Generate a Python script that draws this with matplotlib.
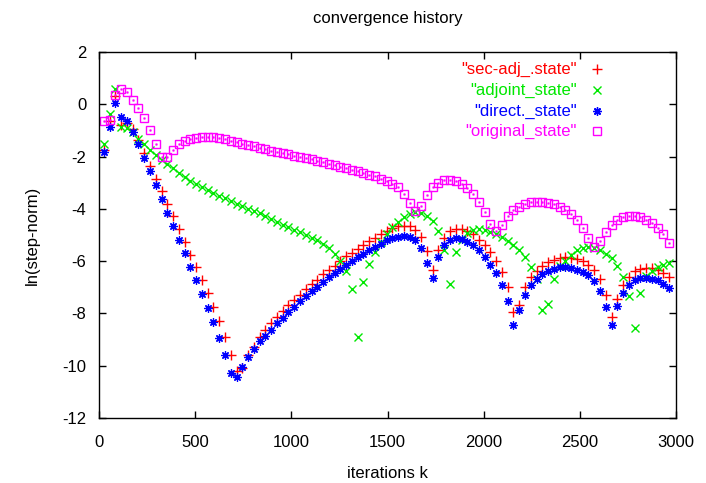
import numpy as np
import matplotlib
matplotlib.use("Agg")
import matplotlib.pyplot as plt

plt.rcParams['font.family'] = ['Liberation Sans', 'DejaVu Sans']
plt.rcParams['axes.unicode_minus'] = False

# iteration numbers (one sample every 30 iterations)
iters = np.arange(25, 2966, 30)

sec_adj = [-1.75, -0.64, 0.30, -0.80, -0.72, -0.95, -1.38, -1.87, -2.36, -2.85,
           -3.32, -3.81, -4.28, -4.76, -5.25, -5.75, -6.23, -6.72, -7.23, -7.74,
           -8.28, -8.89, -9.59, -10.20, -10.10, -9.60, -9.27, -8.89, -8.62, -8.38,
           -8.15, -7.92, -7.68, -7.47, -7.28, -7.06, -6.87, -6.72, -6.51, -6.33,
           -6.17, -5.98, -5.82, -5.68, -5.54, -5.40, -5.24, -5.10, -4.95, -4.83,
           -4.72, -4.67, -4.64, -4.67, -4.80, -5.06, -5.62, -6.33, -5.57, -5.11,
           -4.84, -4.76, -4.78, -4.85, -4.98, -5.18, -5.40, -5.66, -5.98, -6.40,
           -7.00, -7.96, -7.66, -7.00, -6.62, -6.36, -6.17, -6.04, -5.95, -5.88,
           -5.86, -5.87, -5.91, -5.98, -6.13, -6.33, -6.68, -7.28, -8.12, -7.46,
           -6.90, -6.59, -6.39, -6.30, -6.27, -6.27, -6.33, -6.46, -6.62]

adjoint = [-1.53, -0.36, 0.60, -0.85, -0.90, -1.06, -1.31, -1.53, -1.76, -1.95,
           -2.12, -2.30, -2.45, -2.62, -2.78, -2.92, -3.05, -3.17, -3.28, -3.39,
           -3.50, -3.60, -3.70, -3.80, -3.90, -3.99, -4.08, -4.17, -4.27, -4.40,
           -4.50, -4.60, -4.71, -4.81, -4.90, -5.00, -5.11, -5.21, -5.33, -5.51,
           -5.72, -6.00, -6.36, -7.06, -8.90, -6.81, -6.11, -5.64, -5.27, -4.95,
           -4.70, -4.49, -4.33, -4.18, -4.12, -4.17, -4.29, -4.47, -4.84, -5.59,
           -6.88, -5.66, -5.21, -4.92, -4.80, -4.76, -4.80, -4.87, -4.98, -5.09,
           -5.22, -5.40, -5.59, -5.86, -6.21, -6.70, -7.87, -7.64, -6.68, -6.20,
           -5.98, -5.75, -5.59, -5.50, -5.47, -5.48, -5.57, -5.71, -5.88, -6.17,
           -6.59, -7.33, -8.54, -7.23, -6.55, -6.36, -6.23, -6.13, -6.08]

direct = [-1.83, -0.87, 0.05, -0.49, -0.64, -1.06, -1.53, -2.06, -2.57, -3.10,
          -3.61, -4.15, -4.66, -5.18, -5.70, -6.21, -6.74, -7.25, -7.79, -8.32,
          -8.93, -9.58, -10.28, -10.45, -10.04, -9.66, -9.36, -9.07, -8.85, -8.62,
          -8.38, -8.17, -7.96, -7.74, -7.54, -7.34, -7.15, -6.97, -6.79, -6.62,
          -6.45, -6.30, -6.15, -6.00, -5.86, -5.72, -5.57, -5.45, -5.33, -5.20,
          -5.11, -5.06, -5.03, -5.07, -5.20, -5.49, -6.08, -6.64, -5.85, -5.40,
          -5.18, -5.11, -5.15, -5.27, -5.40, -5.59, -5.85, -6.13, -6.46, -6.90,
          -7.54, -8.43, -7.87, -7.28, -6.93, -6.68, -6.51, -6.39, -6.30, -6.24,
          -6.23, -6.26, -6.32, -6.40, -6.53, -6.77, -7.13, -7.74, -8.46, -7.73,
          -7.22, -6.91, -6.74, -6.64, -6.64, -6.68, -6.74, -6.87, -7.02]

original = [-0.64, -0.60, 0.35, 0.60, 0.46, 0.18, -0.13, -0.51, -0.97, -1.51,
            -2.02, -2.02, -1.76, -1.53, -1.40, -1.32, -1.28, -1.26, -1.26, -1.27,
            -1.30, -1.34, -1.40, -1.45, -1.50, -1.55, -1.61, -1.66, -1.71, -1.77,
            -1.81, -1.86, -1.92, -1.97, -2.00, -2.05, -2.11, -2.16, -2.22, -2.27,
            -2.33, -2.39, -2.45, -2.51, -2.56, -2.62, -2.69, -2.76, -2.85, -2.93,
            -3.04, -3.18, -3.42, -3.77, -4.10, -3.88, -3.48, -3.18, -3.00, -2.90,
            -2.88, -2.94, -3.05, -3.20, -3.45, -3.74, -4.13, -4.58, -4.85, -4.60,
            -4.29, -4.06, -3.91, -3.80, -3.74, -3.72, -3.72, -3.76, -3.82, -3.91,
            -4.04, -4.19, -4.42, -4.72, -5.12, -5.47, -5.24, -4.87, -4.60, -4.42,
            -4.32, -4.26, -4.26, -4.31, -4.42, -4.55, -4.72, -4.98, -5.31]

labels = ['"sec-adj_.state"', '"adjoint_state"', '"direct._state"', '"original_state"']
colors = ['#ff0000', '#00e800', '#0000ff', '#ff00ff']
asterisk = (8, 2, 0)

fig = plt.figure(figsize=(7.06, 4.83), dpi=100)
ax = fig.add_axes([99/706, 65/483, 577/706, 366/483])

ax.plot(iters, sec_adj, ls='none', marker='+', ms=6.5, mew=1.0, color=colors[0])
ax.plot(iters, adjoint, ls='none', marker='x', ms=5.5, mew=1.0, color=colors[1])
ax.plot(iters, direct, ls='none', marker=asterisk, ms=6, mew=0.9, color=colors[2])
ax.plot(iters, original, ls='none', marker='s', ms=5.5, mew=1.0, mfc='none', color=colors[3])
ax.plot(iters, original, ls='none', marker='s', ms=1, mew=0.5, color=colors[3])

ax.set_xlim(0, 3000)
ax.set_ylim(-12, 2)
ax.set_xticks(range(0, 3001, 500))
ax.set_yticks(range(-12, 3, 2))
ax.tick_params(direction='in', length=5, width=1, top=True, right=True, labelsize=12)
ax.tick_params(axis='x', pad=12)
ax.tick_params(axis='y', pad=9)
for s in ax.spines.values():
    s.set_linewidth(1)

ax.set_title('convergence history', fontsize=12, pad=21)
ax.set_xlabel('iterations k', fontsize=12, labelpad=12)
ax.set_ylabel('ln(step-norm)', fontsize=12, labelpad=16)

# gnuplot style key: right aligned coloured text, one point sample
markers = ['+', 'x', asterisk, 's']
sizes = [6.5, 5.5, 6, 5.5]
key_y = [0.9536, 0.8962, 0.8388, 0.7842]
for lab, c, m, s, ky in zip(labels, colors, markers, sizes, key_y):
    ax.text(0.828, ky, lab, color=c, fontsize=12, ha='right', va='center', transform=ax.transAxes)
    ax.plot([0.863], [ky], ls='none', marker=m, ms=s, mew=1.0, color=c,
            mfc='none' if m == 's' else c, transform=ax.transAxes, clip_on=False)

fig.savefig('out.png', dpi=100)
